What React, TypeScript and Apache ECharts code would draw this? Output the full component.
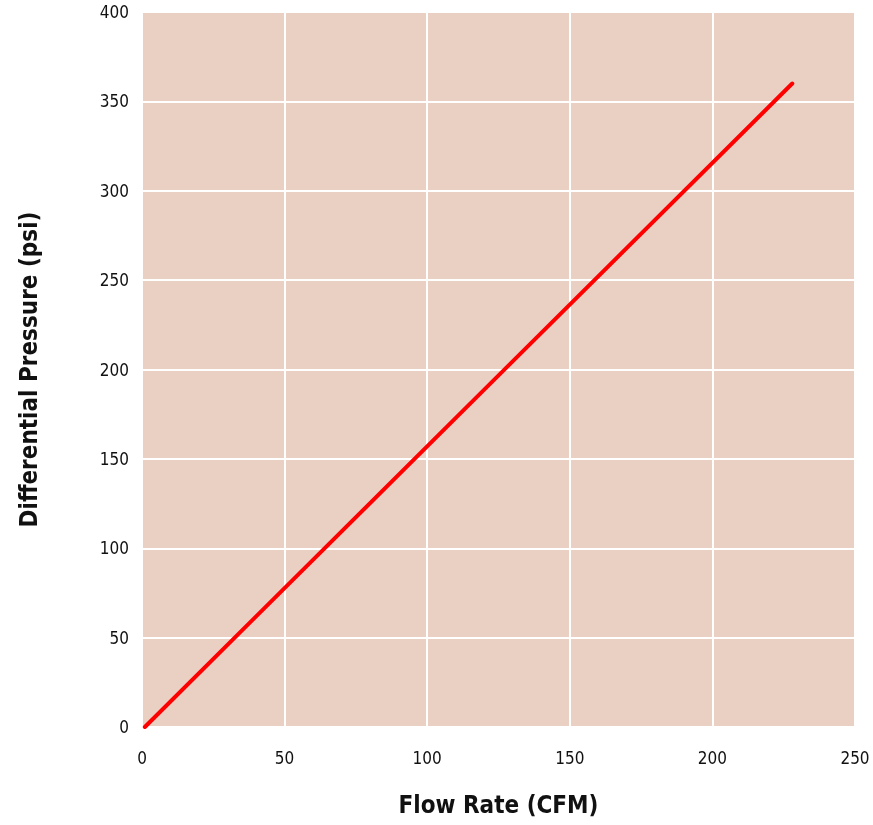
import React, { useEffect, useRef } from "react";
import * as echarts from "echarts";

const flowRate = [1, 228];
const pressure = [0, 360];
const xTicks = [0, 50, 100, 150, 200, 250];
const yTicks = [0, 50, 100, 150, 200, 250, 300, 350, 400];

const FONT = "'DejaVu Sans Condensed', 'Liberation Sans Narrow', sans-serif";

export default function App() {
  const ref = useRef<HTMLDivElement>(null);
  useEffect(() => {
    if (!ref.current) return;
    const chart = echarts.init(ref.current, undefined, { renderer: "svg" });
    chart.setOption({
      animation: false,
      grid: {
        left: 142,
        top: 12,
        right: 18,
        bottom: 98,
        show: true,
        backgroundColor: "#e9d0c3",
        borderWidth: 0,
      },
      xAxis: {
        type: "value",
        min: xTicks[0],
        max: xTicks[xTicks.length - 1],
        interval: 50,
        name: "Flow Rate (CFM)",
        nameLocation: "middle",
        nameGap: 66,
        nameTextStyle: { fontFamily: FONT, fontSize: 24, fontWeight: "bold", color: "#111" },
        axisLine: { show: false },
        axisTick: { show: false },
        axisLabel: { margin: 22, fontFamily: FONT, fontSize: 17, color: "#111" },
        splitLine: { show: true, lineStyle: { color: "#ffffff", width: 2 } },
      },
      yAxis: {
        type: "value",
        min: yTicks[0],
        max: yTicks[yTicks.length - 1],
        interval: 50,
        name: "Differential Pressure (psi)",
        nameLocation: "middle",
        nameGap: 101,
        nameTextStyle: { fontFamily: FONT, fontSize: 24, fontWeight: "bold", color: "#111" },
        axisLine: { show: false },
        axisTick: { show: false },
        axisLabel: { margin: 13, fontFamily: FONT, fontSize: 17, color: "#111" },
        splitLine: { show: true, lineStyle: { color: "#ffffff", width: 2 } },
      },
      series: [
        {
          type: "line",
          data: flowRate.map((x, i) => [x, pressure[i]]),
          symbol: "none",
          lineStyle: { color: "#ff0000", width: 4, cap: "round" },
        },
      ],
    });
    return () => chart.dispose();
  }, []);
  return <div ref={ref} style={{ position: "fixed", left: 0, top: 0, width: 873, height: 825 }} />;
}
